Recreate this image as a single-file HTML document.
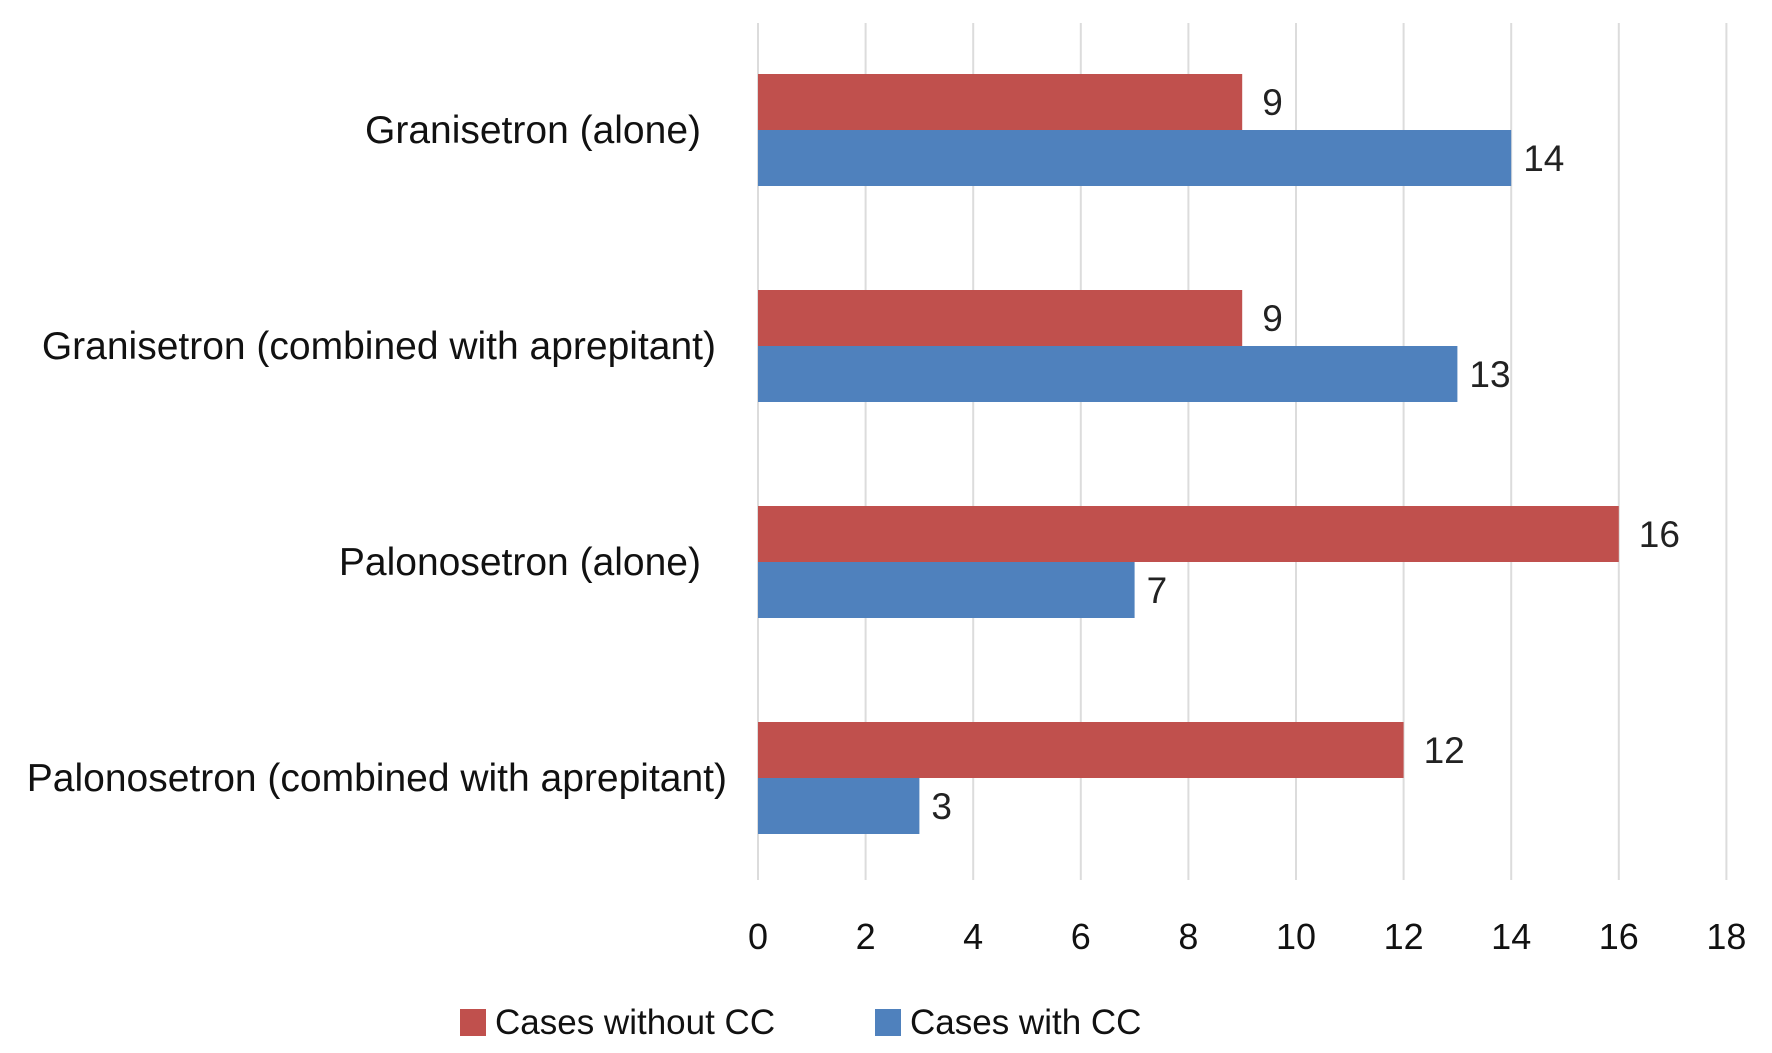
<!DOCTYPE html>
<html><head><meta charset="utf-8"><style>
html,body{margin:0;padding:0;background:#fff;}
svg{display:block;font-family:"Liberation Sans",sans-serif;}
</style></head><body>
<svg id="chart" width="1772" height="1053" viewBox="0 0 1772 1053">
<g id="grid"></g>
<g id="bars"></g>
<g id="labels"></g>
<g id="ticks"></g>
<g>
  <rect x="460" y="1009" width="26" height="27" fill="#C0504D"/>
  <text x="495" y="1034" font-size="35" fill="#111">Cases without CC</text>
  <rect x="875" y="1009" width="26" height="27" fill="#4F81BD"/>
  <text x="910" y="1034" font-size="35" fill="#111">Cases with CC</text>
</g>
</svg>
<script>
const categories = ["Granisetron (alone)","Granisetron (combined with aprepitant)","Palonosetron (alone)","Palonosetron (combined with aprepitant)"];
const withoutCC = [9, 9, 16, 12];
const withCC = [14, 13, 7, 3];
const tickValues = [0,2,4,6,8,10,12,14,16,18];
const labelRight = [701, 716, 701, 727];

const NS = "http://www.w3.org/2000/svg";
const x0 = 758, unit = 53.8, plotTop = 23, plotBottom = 880;
const xs = v => x0 + v * unit;
const groupTop = i => 74 + i * 216;
const barH = 56;
function mk(tag, attrs, parent){const e=document.createElementNS(NS,tag);for(const k in attrs)e.setAttribute(k,attrs[k]);parent.appendChild(e);return e;}
const grid=document.getElementById('grid'), bars=document.getElementById('bars'), labels=document.getElementById('labels'), ticks=document.getElementById('ticks');
tickValues.forEach(t=>{
  const l=mk('line',{x1:xs(t),x2:xs(t),y1:plotTop,y2:plotBottom,stroke:'#dcdcdc','stroke-width':2},grid);
  
  
  const tx=mk('text',{x:xs(t),y:949,'font-size':36,'text-anchor':'middle',fill:'#111'},ticks);
  tx.textContent=t;
  
  
});
categories.forEach((c,i)=>{
  const gy=groupTop(i);
  const r=mk('rect',{x:x0,y:gy,width:xs(withoutCC[i])-x0,height:barH,fill:'#C0504D'},bars);
  
  
  const b=mk('rect',{x:x0,y:gy+barH,width:xs(withCC[i])-x0,height:barH,fill:'#4F81BD'},bars);
  
  
  const rl=mk('text',{x:xs(withoutCC[i])+20,y:gy+barH/2+13,'font-size':37,fill:'#222'},bars);
  rl.textContent=withoutCC[i];
  
  
  const bl=mk('text',{x:xs(withCC[i])+12,y:gy+barH*1.5+13,'font-size':37,fill:'#222'},bars);
  bl.textContent=withCC[i];
  
  
  const cl=mk('text',{x:labelRight[i],y:gy+barH+13,'font-size':39,'text-anchor':'end',fill:'#111'},labels);
  cl.textContent=c;
  
  
});
</script>
</body></html>
